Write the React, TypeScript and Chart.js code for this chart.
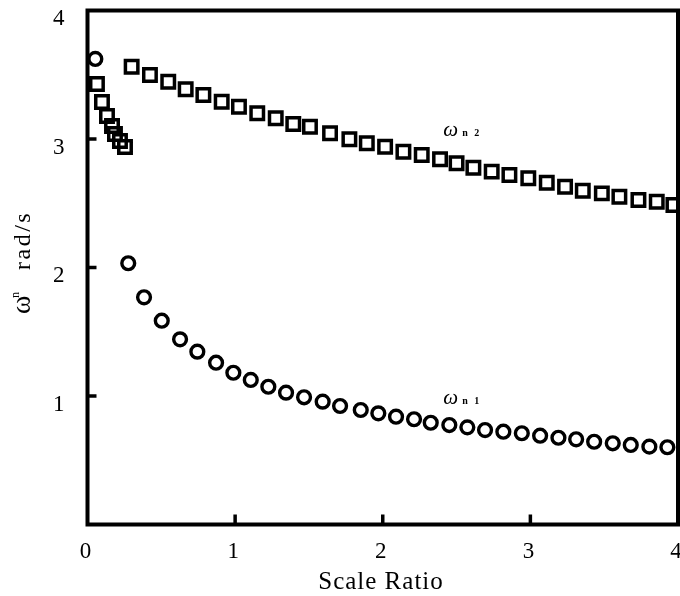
import React, { useEffect, useRef } from "react";
import { Chart, registerables } from "chart.js";

Chart.register(...registerables);

// ---- data ----
const xTickValues = [0, 1, 2, 3, 4];
const yTickValues = [1, 2, 3, 4];
const innerTickValues = [1, 2, 3];

const xTitle = "Scale Ratio";
const yTitleSymbol = "ω";
const yTitleSub = "n";
const yTitleUnit = "rad/s";

const labelSymbol = "ω";
const labelN2Sub = "n 2";
const labelN1Sub = "n 1";
const labelN2At = { x: 2.41, y: 3.02 };
const labelN1At = { x: 2.41, y: 0.94 };

// ωn2 (squares)
const omegaN2X = [
  0.064, 0.098, 0.132, 0.166, 0.186, 0.22, 0.254,
  0.299, 0.423, 0.547, 0.665, 0.785, 0.909, 1.026, 1.15, 1.275, 1.394,
  1.507, 1.643, 1.774, 1.892, 2.016, 2.14, 2.264, 2.388, 2.5, 2.614,
  2.738, 2.858, 2.986, 3.111, 3.235, 3.355, 3.484, 3.603, 3.732, 3.856, 3.969,
];
const omegaN2Y = [
  3.428, 3.288, 3.179, 3.101, 3.039, 2.984, 2.938,
  3.563, 3.498, 3.446, 3.387, 3.342, 3.29, 3.251, 3.2, 3.161, 3.117,
  3.096, 3.044, 2.998, 2.967, 2.94, 2.901, 2.875, 2.842, 2.811, 2.777,
  2.746, 2.72, 2.694, 2.66, 2.629, 2.598, 2.577, 2.551, 2.525, 2.512, 2.486,
];

// ωn1 (circles)
const omegaN1X = [
  0.053,
  0.276, 0.383, 0.503, 0.627, 0.744, 0.871, 0.988, 1.106, 1.225, 1.345,
  1.467, 1.593, 1.711, 1.851, 1.97, 2.09, 2.212, 2.325, 2.451, 2.573,
  2.693, 2.817, 2.942, 3.066, 3.19, 3.31, 3.432, 3.558, 3.68, 3.806, 3.928,
];
const omegaN1Y = [
  3.623,
  2.033, 1.768, 1.586, 1.441, 1.345, 1.259, 1.181, 1.125, 1.072, 1.026,
  0.99, 0.956, 0.922, 0.891, 0.865, 0.839, 0.819, 0.792, 0.774, 0.756,
  0.735, 0.722, 0.71, 0.691, 0.675, 0.663, 0.644, 0.632, 0.619, 0.606, 0.601,
];

const FONT = "'Liberation Serif', 'DejaVu Serif', serif";

const decorPlugin = {
  id: "decor",
  afterDraw(chart: any) {
    const { ctx, chartArea: a, scales } = chart;
    const xs = scales.x;
    const ys = scales.y;
    ctx.save();
    ctx.strokeStyle = "#000";
    ctx.fillStyle = "#000";
    // frame
    ctx.lineWidth = 4;
    ctx.strokeRect(a.left, a.top, a.right - a.left, a.bottom - a.top);
    // inward ticks
    ctx.lineWidth = 3.5;
    ctx.beginPath();
    for (const v of innerTickValues) {
      const px = xs.getPixelForValue(v);
      ctx.moveTo(px, a.bottom);
      ctx.lineTo(px, a.bottom - 10);
      const py = ys.getPixelForValue(v);
      ctx.moveTo(a.left, py);
      ctx.lineTo(a.left + 9, py);
    }
    ctx.stroke();

    // x tick labels
    ctx.font = `23px ${FONT}`;
    ctx.textAlign = "center";
    ctx.textBaseline = "alphabetic";
    for (const v of xTickValues) {
      ctx.fillText(String(v), xs.getPixelForValue(v) - 2, a.bottom + 33);
    }

    // x title
    ctx.font = `25px ${FONT}`;
    ctx.textAlign = "center";
    (ctx as any).letterSpacing = "1px";
    ctx.fillText(xTitle, 381, 589);

    // y title (rotated)
    ctx.save();
    ctx.translate(30, 314);
    ctx.rotate(-Math.PI / 2);
    ctx.textAlign = "left";
    (ctx as any).letterSpacing = "0px";
    ctx.font = `28px ${FONT}`;
    ctx.fillText(yTitleSymbol, 0, 0);
    ctx.font = `12px ${FONT}`;
    ctx.fillText(yTitleSub, 16, -11);
    ctx.font = `24px ${FONT}`;
    (ctx as any).letterSpacing = "2.5px";
    ctx.fillText(yTitleUnit, 44, 0);
    ctx.restore();

    // series labels
    (ctx as any).letterSpacing = "0px";
    const drawLabel = (at: { x: number; y: number }, sub: string) => {
      const px = xs.getPixelForValue(at.x);
      const py = ys.getPixelForValue(at.y);
      ctx.textAlign = "left";
      ctx.font = `italic 21px ${FONT}`;
      ctx.fillText(labelSymbol, px, py);
      ctx.font = `bold 10px ${FONT}`;
      (ctx as any).letterSpacing = "2px";
      ctx.fillText(sub, px + 19, py);
      (ctx as any).letterSpacing = "0px";
    };
    drawLabel(labelN2At, labelN2Sub);
    drawLabel(labelN1At, labelN1Sub);
    ctx.restore();
  },
};

export default function App() {
  const ref = useRef<HTMLCanvasElement | null>(null);

  useEffect(() => {
    const canvas = ref.current;
    if (!canvas) return;
    const chart = new Chart(canvas, {
      type: "scatter",
      data: {
        datasets: [
          {
            label: "ωn2",
            data: omegaN2X.map((x, i) => ({ x, y: omegaN2Y[i] })),
            pointStyle: "rect",
            pointRadius: 8.8,
            pointBorderWidth: 3.5,
            borderColor: "#000",
            backgroundColor: "rgba(0,0,0,0)",
            pointBackgroundColor: "rgba(0,0,0,0)",
            pointBorderColor: "#000",
          },
          {
            label: "ωn1",
            data: omegaN1X.map((x, i) => ({ x, y: omegaN1Y[i] })),
            pointStyle: "circle",
            pointRadius: 6.4,
            pointBorderWidth: 3.4,
            borderColor: "#000",
            backgroundColor: "rgba(0,0,0,0)",
            pointBackgroundColor: "rgba(0,0,0,0)",
            pointBorderColor: "#000",
          },
        ],
      },
      options: {
        animation: false,
        responsive: false,
        devicePixelRatio: 1,
        layout: { autoPadding: false, padding: { top: 10.5, right: 2, left: 0, bottom: 0 } },
        plugins: {
          legend: { display: false },
          tooltip: { enabled: false },
        },
        scales: {
          x: {
            type: "linear",
            min: 0,
            max: 4,
            grid: { display: false, drawTicks: false },
            border: { display: false },
            title: { display: false },
            afterBuildTicks: (s: any) => {
              s.ticks = xTickValues.map((v) => ({ value: v }));
            },
            afterFit: (s: any) => {
              s.height = 71.5;
              s.paddingLeft = 0;
              s.paddingRight = 0;
            },
            ticks: { display: false },
          },
          y: {
            type: "linear",
            min: 0,
            max: 4,
            grid: { display: false, drawTicks: false },
            border: { display: false },
            title: { display: false },
            afterBuildTicks: (s: any) => {
              s.ticks = yTickValues.map((v) => ({ value: v }));
            },
            afterFit: (s: any) => {
              s.width = 87.5;
              s.paddingTop = 0;
              s.paddingBottom = 0;
            },
            ticks: {
              padding: 23,
              labelOffset: 8.5,
              color: "#000",
              font: { family: FONT, size: 23 },
              autoSkip: false,
            },
          },
        },
      },
      plugins: [decorPlugin],
    });
    return () => chart.destroy();
  }, []);

  return (
    <div
      style={{
        position: "fixed",
        left: 0,
        top: 0,
        width: 680,
        height: 596,
        background: "#fff",
        overflow: "hidden",
      }}
    >
      <canvas ref={ref} width={680} height={596} style={{ width: 680, height: 596, display: "block" }} />
    </div>
  );
}
